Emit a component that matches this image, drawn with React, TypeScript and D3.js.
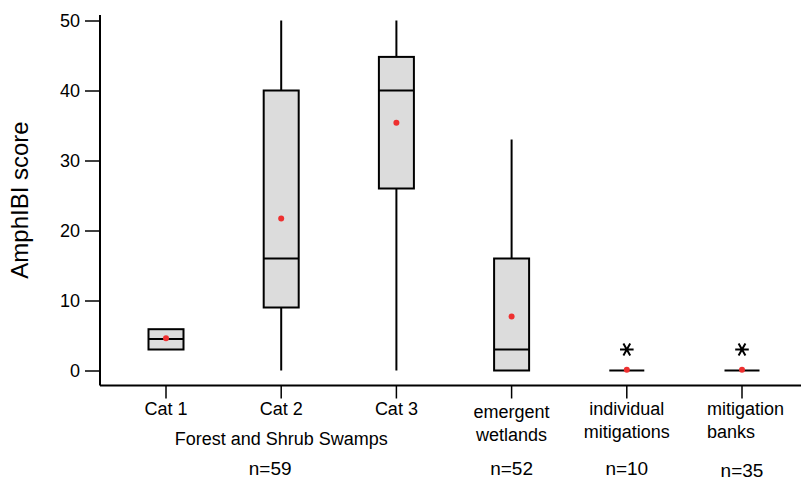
import React, { useRef, useEffect } from 'react';
import * as d3 from 'd3';

// box statistics (AmphIBI score)
const categories = ['cat1', 'cat2', 'cat3', 'emergent', 'individual', 'banks'];
const labelLines = [['Cat 1'], ['Cat 2'], ['Cat 3'], ['emergent', 'wetlands'], ['individual', 'mitigations'], ['mitigation', 'banks']];
const whiskerLow = [3, 0, 0, 0, 0, 0];
const q1 = [3, 9, 26, 0, 0, 0];
const median = [4.5, 16, 40, 3, 0, 0];
const q3 = [5.9, 40, 44.8, 16, 0, 0];
const whiskerHigh = [5.9, 50, 50, 33, 0, 0];
const means = [4.6, 21.7, 35.4, 7.7, 0.1, 0.1];
const outliers: number[][] = [[], [], [], [], [3], [3]];
const yTicks = [0, 10, 20, 30, 40, 50];
const groupLabel = 'Forest and Shrub Swamps';
const sampleSizes = [
  { text: 'n=59', cat: 'cat2', dx: -11, dy: 0 },
  { text: 'n=52', cat: 'emergent', dx: 0, dy: 0 },
  { text: 'n=10', cat: 'individual', dx: 0, dy: 0 },
  { text: 'n=35', cat: 'banks', dx: 0, dy: 2 },
];

const W = 801;
const H = 481;
const FONT = '"Liberation Sans", Arial, sans-serif';

const App: React.FC = () => {
  const svgRef = useRef<SVGSVGElement | null>(null);

  useEffect(() => {
    const svg = d3.select(svgRef.current);
    svg.selectAll('*').remove();

    const x = d3.scalePoint<string>().domain(categories).range([166, 742]);
    const y = d3.scaleLinear().domain([0, 50]).range([370.5, 20.5]);
    const boxW = 35;
    const axisX = 100;
    const axisY = 385.5;

    // y axis
    const yAxis = svg.append('g')
      .attr('transform', `translate(${axisX},0)`)
      .call(d3.axisLeft(y).tickValues(yTicks).tickSize(15).tickPadding(5));
    yAxis.select('.domain').remove();
    yAxis.selectAll('line').attr('stroke', '#000').attr('stroke-width', 1.5);
    yAxis.selectAll('text').attr('font-family', FONT).attr('font-size', 18).attr('fill', '#000');

    svg.append('line')
      .attr('x1', axisX).attr('x2', axisX)
      .attr('y1', 15).attr('y2', axisY)
      .attr('stroke', '#000').attr('stroke-width', 2);

    // x axis
    svg.append('line')
      .attr('x1', axisX).attr('x2', W)
      .attr('y1', axisY).attr('y2', axisY)
      .attr('stroke', '#000').attr('stroke-width', 2);
    svg.selectAll('.xtick')
      .data(categories)
      .enter()
      .append('line')
      .attr('x1', d => x(d)!).attr('x2', d => x(d)!)
      .attr('y1', axisY).attr('y2', axisY + 13)
      .attr('stroke', '#000').attr('stroke-width', 1.5);

    // y title
    svg.append('text')
      .attr('transform', `translate(28,200) rotate(-90)`)
      .attr('text-anchor', 'middle')
      .attr('font-family', FONT)
      .attr('font-size', 24)
      .text('AmphIBI score');

    const g = svg.append('g');

    categories.forEach((c, i) => {
      const cx = x(c)!;
      // whiskers
      if (whiskerHigh[i] > q3[i]) {
        g.append('line').attr('x1', cx).attr('x2', cx)
          .attr('y1', y(q3[i])).attr('y2', y(whiskerHigh[i]))
          .attr('stroke', '#000').attr('stroke-width', 2);
      }
      if (whiskerLow[i] < q1[i]) {
        g.append('line').attr('x1', cx).attr('x2', cx)
          .attr('y1', y(q1[i])).attr('y2', y(whiskerLow[i]))
          .attr('stroke', '#000').attr('stroke-width', 2);
      }
      // box
      g.append('rect')
        .attr('x', cx - boxW / 2)
        .attr('y', y(q3[i]))
        .attr('width', boxW)
        .attr('height', y(q1[i]) - y(q3[i]))
        .attr('fill', '#dcdcdc')
        .attr('stroke', '#000')
        .attr('stroke-width', 2);
      // median
      g.append('line')
        .attr('x1', cx - boxW / 2).attr('x2', cx + boxW / 2)
        .attr('y1', y(median[i])).attr('y2', y(median[i]))
        .attr('stroke', '#000').attr('stroke-width', 2);
      // outliers
      outliers[i].forEach(o => {
        g.append('path')
          .attr('d', d3.symbol(d3.symbolAsterisk, 130)()!)
          .attr('transform', `translate(${cx},${y(o)}) rotate(90)`)
          .attr('fill', 'none')
          .attr('stroke', '#000')
          .attr('stroke-width', 2);
      });
      // mean
      g.append('circle')
        .attr('cx', cx)
        .attr('cy', y(means[i]))
        .attr('r', 3)
        .attr('fill', '#ee3030');
    });

    // category labels
    categories.forEach((c, i) => {
      const lines = labelLines[i];
      const isBanks = c === 'banks';
      const t = svg.append('text')
        .attr('font-family', FONT)
        .attr('font-size', 18)
        .attr('text-anchor', isBanks ? 'start' : 'middle');
      lines.forEach((ln, j) => {
        const baseY = c === 'emergent' ? 418 : 415;
        t.append('tspan')
          .attr('x', isBanks ? x(c)! - 35 : x(c)!)
          .attr('y', baseY + j * 23)
          .text(ln);
      });
    });

    svg.append('text')
      .attr('x', x('cat2')!)
      .attr('y', 445)
      .attr('text-anchor', 'middle')
      .attr('font-family', FONT)
      .attr('font-size', 18)
      .text(groupLabel);

    svg.selectAll('.nlabel')
      .data(sampleSizes)
      .enter()
      .append('text')
      .attr('x', d => x(d.cat)! + d.dx)
      .attr('y', d => 475 + d.dy)
      .attr('text-anchor', 'middle')
      .attr('font-family', FONT)
      .attr('font-size', 19)
      .text(d => d.text);
  }, []);

  return (
    <svg
      ref={svgRef}
      width={W}
      height={H}
      style={{ position: 'absolute', left: 0, top: 0, background: '#fff' }}
    />
  );
};

export default App;
